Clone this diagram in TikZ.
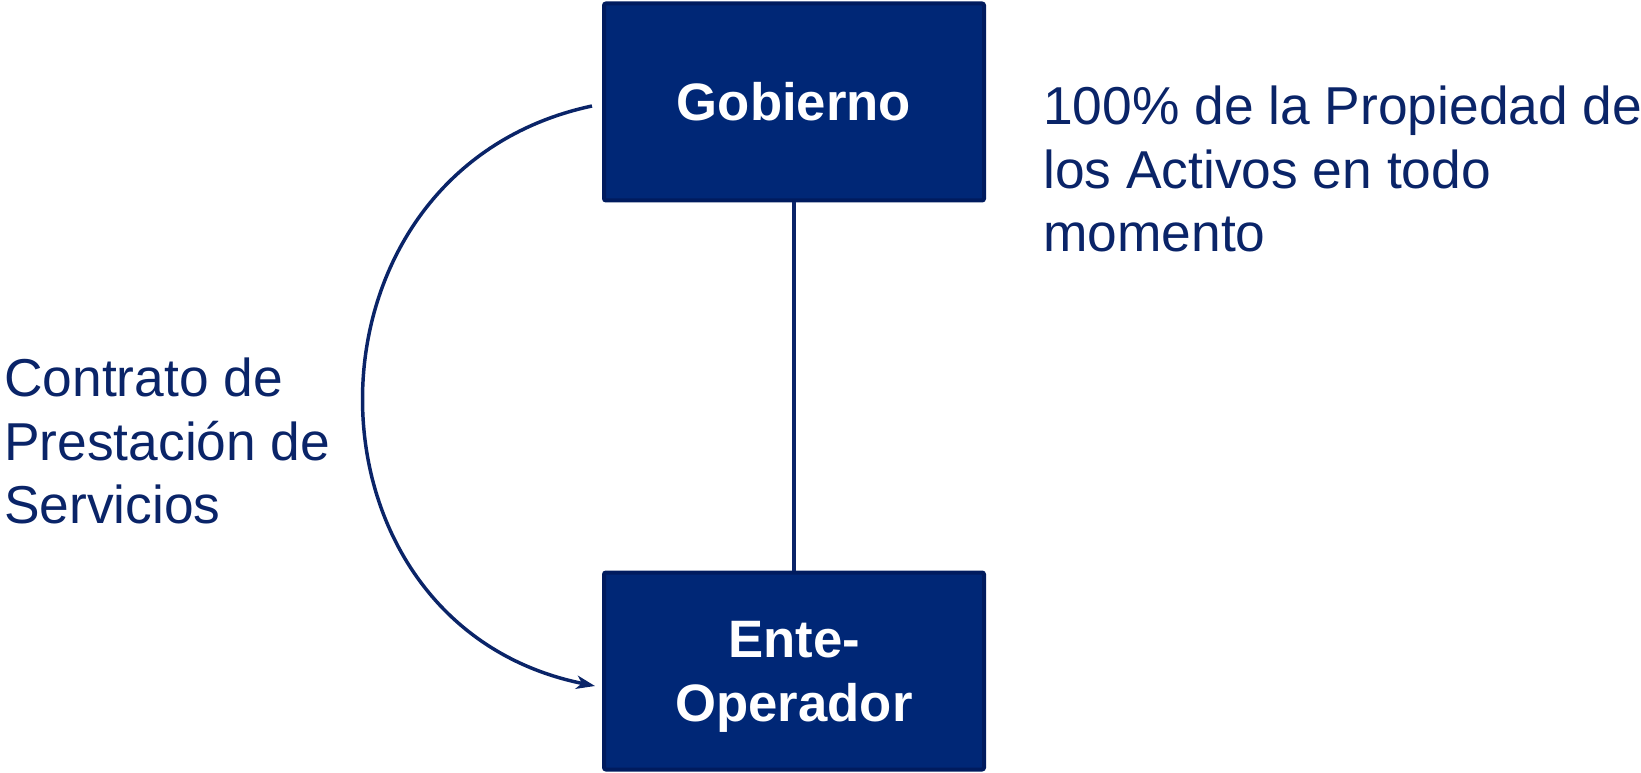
\documentclass[tikz,border=0pt]{standalone}
\usepackage{fontspec}
\setmainfont{Liberation Sans}
\usetikzlibrary{arrows.meta}

\definecolor{azul}{HTML}{002776}
\definecolor{azulborde}{HTML}{001B5E}
\definecolor{azultexto}{HTML}{0A2468}

\begin{document}
\begin{tikzpicture}[x=0.75pt,y=0.75pt,
        entidad/.style={draw=azulborde,fill=azul,line width=3pt,rounded corners=1.5pt,
            minimum width=380*0.75pt,minimum height=197*0.75pt,
            text=white,font=\fontsize{39.5}{48}\selectfont\bfseries,align=center},
        nota/.style={anchor=north west,inner sep=0pt,align=left,text=azultexto,
            font=\fontsize{40}{47.5}\selectfont},
        enlace/.style={draw=azultexto,line width=3pt}]

        \useasboundingbox (0,0) rectangle (1641,772);

        % cajas
        \node[entidad] (gob) at (794,670) {Gobierno};
        \node[entidad,text depth=0pt] (ente) at (794,101) {Ente-\\Operador};

        % textos
        \node[nota] (prop) at (1043,686) {100\% de la Propiedad de\\los Activos en todo\\momento};
        \node[nota] (contrato) at (4,414) {Contrato de\\Prestación de\\Servicios};

        % conexiones
        \coordinate (ini) at (592,666);
        \coordinate (fin) at (595,86);
        \draw[enlace] (gob.south) -- (ente.north);
        \draw[enlace,line width=2.6pt,-{Stealth[length=14pt,width=10pt,inset=4pt]}]
            (ini) .. controls (287,601) and (288,148) .. (fin);
\end{tikzpicture}
\end{document}
